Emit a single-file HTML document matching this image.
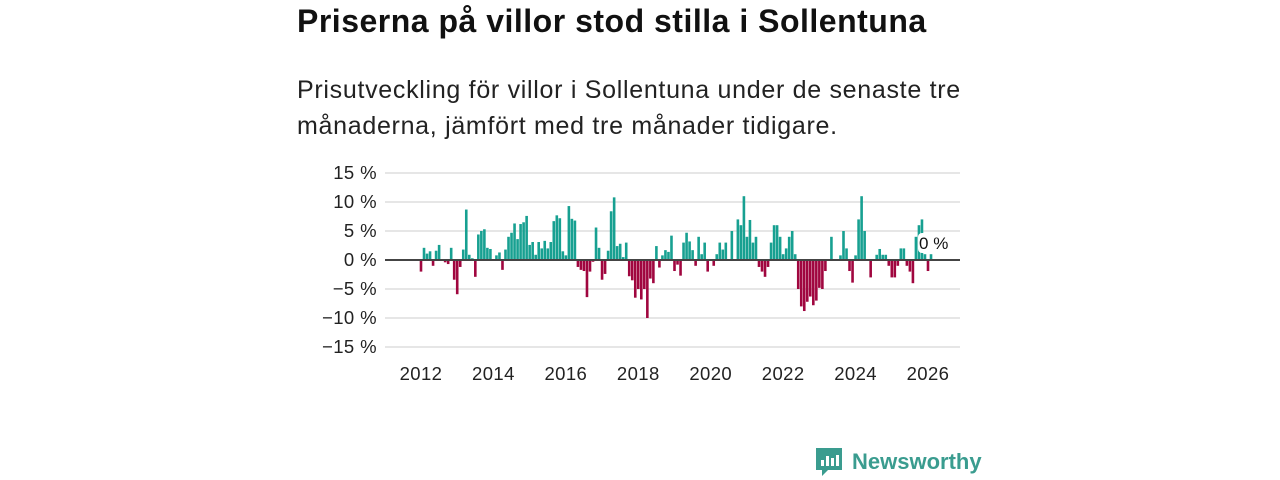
<!DOCTYPE html>
<html><head><meta charset="utf-8"><style>
body{margin:0;width:1280px;height:480px;background:#fff;font-family:"Liberation Sans",sans-serif;overflow:hidden;position:relative}
#title{position:absolute;left:297px;top:3px;font-size:32px;letter-spacing:0.5px;font-weight:bold;color:#111;white-space:nowrap}
#sub{position:absolute;left:297px;top:72px;font-size:25px;letter-spacing:0.7px;line-height:36px;color:#222;width:720px}
svg{position:absolute;left:0;top:0}
</style></head><body>
<div id="title">Priserna på villor stod stilla i Sollentuna</div>
<div id="sub">Prisutveckling för villor i Sollentuna under de senaste tre<br>månaderna, jämfört med tre månader tidigare.</div>
<svg id="chart" width="1280" height="480"></svg>
<script>
const yTicks=[15,10,5,0,-5,-10,-15];
const xYears=[2012,2014,2016,2018,2020,2022,2024,2026];
const startYear=2012;
const values=[-2.0,2.1,1.1,1.5,-1.0,1.6,2.6,0,-0.4,-0.7,2.1,-3.4,-5.9,-1.2,1.8,8.7,0.9,0.3,-2.9,4.4,5.0,5.3,2.1,1.9,0,0.8,1.3,-1.7,1.8,4.0,4.7,6.3,3.6,6.2,6.5,7.6,2.6,3.1,0.9,3.1,2.0,3.3,2.0,3.1,
6.7,7.7,7.2,1.5,0.8,9.3,7.1,6.8,-1.2,-1.7,-1.9,-6.4,-2.0,-0.3,5.6,2.1,-3.4,-2.4,1.6,8.4,10.8,2.4,2.8,0.5,3.0,-2.8,-3.5,-6.5,-5.0,-6.8,-5.0,-10.0,-3.2,-4.0,2.4,-1.3,0.8,1.7,1.4,4.2,-1.9,-0.8,-2.7,3.0,
4.7,3.2,1.7,-1.0,4.0,1.0,3.0,-2.0,0,-1.0,1.0,3.0,1.8,3.0,0,5.0,0,7.0,6.0,11.0,4.0,6.9,3.0,4.0,-1.2,-2.0,-2.9,-1.2,3.0,6.0,6.0,4.0,1.0,2.0,4.0,5.0,1.0,-5.0,-8.0,-8.8,-7.2,-6.3,-7.8,
-7.0,-4.8,-5.0,-1.9,0,4.0,0,0,0.8,5.0,2.0,-1.9,-3.9,0.8,7.0,11.0,5.0,0,-3.0,0,0.9,1.9,0.9,0.9,-1.0,-3.0,-3.0,-1.0,2.0,2.0,-1.0,-2.0,-4.0,4.0,6.0,7.0,1.0,-1.9,1.0];
const lastLabel=["0 %"];
const NS="http://www.w3.org/2000/svg";
const svg=document.getElementById('chart');
const y=v=>260-v*5.8;
const x=t=>421+(t-2012)*(507/14);
function mk(tag,a,p){const e=document.createElementNS(NS,tag);for(const k in a)e.setAttribute(k,a[k]);(p||svg).appendChild(e);return e;}
yTicks.forEach(t=>{
  const l=mk('line',{x1:385,x2:960,y1:y(t),y2:y(t),stroke:'#ddd','stroke-width':1.5});
  
  
  const tx=mk('text',{x:377,y:y(t)+6,'text-anchor':'end','font-size':18.5,'letter-spacing':0.4,fill:'#222','font-family':'Liberation Sans'});
  tx.textContent=(t<0?'−'+(-t):t)+' %';
  
  
});
xYears.forEach(yr=>{
  const tx=mk('text',{x:x(yr),y:380,'text-anchor':'middle','font-size':18.5,'letter-spacing':0.4,fill:'#222','font-family':'Liberation Sans'});
  tx.textContent=yr;
  
  
});
values.forEach((v,i)=>{
  const cx=x(startYear+i/12);
  const b=mk('rect',{x:cx-1.3,width:2.6,y:Math.min(y(v),y(0)),height:Math.abs(y(v)-y(0)),fill:v>=0?'#17a091':'#a0063f'});
  
  
});
const z=mk('line',{x1:385,x2:960,y1:y(0),y2:y(0),stroke:'#444','stroke-width':2});


const lx=x(startYear+(values.length-1)/12);
const bg=mk('rect',{x:lx-13,y:233,width:34,height:20,rx:4,fill:'#fff'});


const lt=mk('text',{x:lx-12,y:249,'font-size':17,fill:'#111','font-family':'Liberation Sans'});
lt.textContent=lastLabel[0];


const g=mk('g',{});


mk('path',{d:'M816 448 h26 v22 h-14 l-6 6 v-6 h-6 z',fill:'#3a9c8f'},g);
[[821,460,3,6],[826,456,3,10],[831,458,3,8],[836,455,3,11]].forEach(r=>mk('rect',{x:r[0],y:r[1],width:r[2],height:r[3],fill:'#fff'},g));
const nt=mk('text',{x:852,y:469,'font-size':22,fill:'#3a9c8f','font-family':'Liberation Sans','font-weight':'bold'},g);
nt.textContent='Newsworthy';
</script>
</body></html>
